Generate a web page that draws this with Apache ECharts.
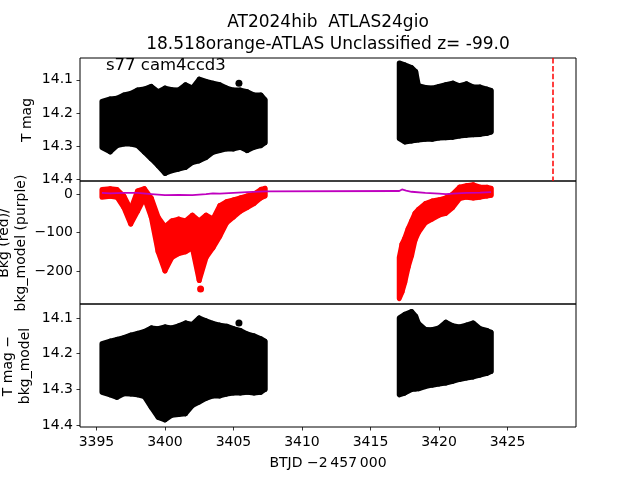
<!DOCTYPE html>
<html>
<head>
<meta charset="utf-8">
<script src="https://cdn.jsdelivr.net/npm/echarts@6/dist/echarts.min.js"></script>
<style>
  html, body { margin: 0; padding: 0; background: #fff; }
  #chart { width: 640px; height: 480px; }
</style>
</head>
<body>
<div id="chart"></div>
<script>
// sample times (BTJD - 2457000) for the two observing stretches
const tA = [3395.4, 3396.0, 3396.5, 3397.0, 3397.5, 3398.0, 3398.5, 3399.0, 3399.5, 3400.0,
            3400.5, 3401.0, 3401.5, 3402.0, 3402.5, 3403.0, 3403.5, 3404.0, 3404.5, 3405.0,
            3405.5, 3406.0, 3406.5, 3407.0, 3407.3];
const tB = [3417.1, 3417.5, 3418.0, 3418.3, 3418.5, 3419.0, 3419.5, 3420.0, 3420.5, 3421.0,
            3421.5, 3422.0, 3422.5, 3423.0, 3423.5, 3423.8];

// panel 1: T mag, upper / lower extent of the points (with error bars)
const magTopA = [14.165, 14.158, 14.156, 14.146, 14.141, 14.131, 14.128, 14.120, 14.136, 14.125,
                 14.130, 14.131, 14.115, 14.125, 14.098, 14.105, 14.110, 14.115, 14.125, 14.131,
                 14.131, 14.136, 14.146, 14.146, 14.160];
const magBotA = [14.305, 14.318, 14.299, 14.294, 14.294, 14.299, 14.319, 14.339, 14.360, 14.383,
                 14.375, 14.370, 14.365, 14.350, 14.345, 14.335, 14.319, 14.314, 14.309, 14.309,
                 14.304, 14.314, 14.304, 14.299, 14.290];
const magTopB = [14.049, 14.055, 14.063, 14.075, 14.118, 14.123, 14.125, 14.120, 14.115, 14.110,
                 14.118, 14.112, 14.122, 14.122, 14.128, 14.132];
const magBotB = [14.278, 14.288, 14.285, 14.283, 14.282, 14.280, 14.280, 14.276, 14.275, 14.274,
                 14.270, 14.268, 14.266, 14.265, 14.262, 14.258];
const magOutlier = [[3405.4, 14.110]];

// panel 3: T mag - bkg_model
const corTopA = [14.172, 14.165, 14.160, 14.155, 14.148, 14.143, 14.138, 14.128, 14.130, 14.125,
                 14.128, 14.122, 14.114, 14.118, 14.100, 14.108, 14.115, 14.120, 14.123, 14.130,
                 14.135, 14.145, 14.150, 14.158, 14.165];
const corBotA = [14.308, 14.315, 14.322, 14.312, 14.313, 14.315, 14.320, 14.350, 14.378, 14.385,
                 14.372, 14.370, 14.368, 14.345, 14.335, 14.325, 14.318, 14.318, 14.313, 14.310,
                 14.310, 14.308, 14.310, 14.308, 14.300];
const corTopB = [14.100, 14.090, 14.082, 14.095, 14.115, 14.132, 14.133, 14.128, 14.112, 14.122,
                 14.125, 14.120, 14.114, 14.130, 14.135, 14.140];
const corBotB = [14.315, 14.310, 14.300, 14.299, 14.298, 14.292, 14.288, 14.285, 14.282, 14.277,
                 14.272, 14.268, 14.265, 14.260, 14.255, 14.250];
const corOutlier = [[3405.4, 14.114]];

// panel 2: background (red) extent
const bkgHiA = [12, 14, 12, -5, -40, 8, 14, -10, -60, -85,
                -70, -65, -70, -55, -70, -55, -65, -30, -20, -15,
                -10, -5, 0, 12, 15];
const bkgLoA = [-8, -6, -8, -35, -78, -45, -10, -60, -150, -200,
                -165, -155, -150, -140, -225, -165, -140, -110, -75, -60,
                -45, -35, -25, -10, -5];
const tBkgB = [3417.1, 3417.3, 3417.5, 3417.75, 3418.0, 3418.25, 3418.5, 3419.0, 3419.5, 3420.0,
               3420.5, 3421.0, 3421.5, 3422.0, 3422.5, 3423.0, 3423.5, 3423.8];
const bkgHiB = [-165, -130, -115, -90, -70, -50, -40, -25, -18, -15,
                -10, 0, 18, 22, 24, 18, 18, 15];
const bkgLoB = [-272, -255, -230, -190, -160, -120, -100, -75, -65, -55,
                -50, -35, -12, -8, -10, -8, -5, -3];
const bkgOutlier = [[3402.6, -247]];

// bkg_model (purple)
const modelT = [3395.4, 3396.0, 3397.0, 3398.0, 3399.0, 3400.0, 3401.0, 3402.0, 3403.0, 3403.5,
                3404.0, 3405.0, 3406.0, 3407.3, 3417.1, 3417.3, 3417.6, 3418.0, 3419.0, 3420.0,
                3420.5, 3421.0, 3422.0, 3423.0, 3423.8];
const modelV = [3, 2, 3, 3, 0, -3, -2, -3, 0, 2,
                1, 3, 5, 7, 8, 12, 9, 6, 3, 1,
                0, 1, 3, 4, 5];

const alertTime = [3428.28];

const xTicks = [3395, 3400, 3405, 3410, 3415, 3420, 3425];
const magTicks = [14.1, 14.2, 14.3, 14.4];
const bkgTicks = [-200, -100, 0];

const FONT = 'DejaVu Sans';
const chart = echarts.init(document.getElementById('chart'));

// each item joins sample i to sample i+1 as a filled strip; the thick
// stroke stands in for the round markers at the edges of the cloud
function band(idx, times, tops, bots, color) {
  return {
    type: 'custom',
    xAxisIndex: idx,
    yAxisIndex: idx,
    data: times.map((t, i) => [t, tops[i], bots[i]]),
    renderItem: function (params, api) {
      const i = params.dataIndex;
      const j = i < times.length - 1 ? i + 1 : i;
      const p1 = api.coord([times[i], tops[i]]);
      const p2 = api.coord([times[j], tops[j]]);
      const p3 = api.coord([times[j], bots[j]]);
      const p4 = api.coord([times[i], bots[i]]);
      return {
        type: 'polygon',
        shape: { points: [p1, p2, p3, p4] },
        style: { fill: color, stroke: color, lineWidth: 5, lineJoin: 'round' }
      };
    }
  };
}

function yAxisOf(idx, min, max, ticks, inverse, fmt) {
  return {
    gridIndex: idx, type: 'value', min: min, max: max, inverse: inverse,
    axisLine: { show: false },
    splitLine: { show: false },
    axisTick: { customValues: ticks, length: 3.5, lineStyle: { color: '#000', width: 0.8 } },
    axisLabel: { customValues: ticks, formatter: fmt, fontSize: 14, color: '#000', fontFamily: FONT, margin: 7 }
  };
}

function xAxisOf(idx, show) {
  return {
    gridIndex: idx, type: 'value', min: 3393.8, max: 3430.0,
    axisLine: { show: false },
    splitLine: { show: false },
    axisTick: { show: show, customValues: xTicks, length: 3.5, lineStyle: { color: '#000', width: 0.8 } },
    axisLabel: { show: show, customValues: xTicks, formatter: v => String(v), fontSize: 14, color: '#000', fontFamily: FONT, margin: 8 }
  };
}

const magFmt = v => v.toFixed(1);
const bkgFmt = v => (v < 0 ? '\u2212' + Math.abs(v) : String(v));
const gridBase = { left: 80, right: 64, height: 123, show: true, borderColor: '#000', borderWidth: 1, backgroundColor: 'transparent' };

function txt(x, y, text, size, opts) {
  return Object.assign({
    type: 'text', x: x, y: y,
    style: { text: text, fontSize: size, fontFamily: FONT, fill: '#000', align: 'center', verticalAlign: 'middle' }
  }, opts || {});
}

chart.setOption({
  animation: false,
  grid: [
    Object.assign({ top: 58 }, gridBase),
    Object.assign({ top: 181 }, gridBase),
    Object.assign({ top: 304 }, gridBase)
  ],
  xAxis: [xAxisOf(0, false), xAxisOf(1, false), xAxisOf(2, true)],
  yAxis: [
    yAxisOf(0, 14.034, 14.406, magTicks, true, magFmt),
    yAxisOf(1, -286, 34, bkgTicks, false, bkgFmt),
    yAxisOf(2, 14.061, 14.405, magTicks, true, magFmt)
  ],
  series: [
    band(0, tA, magTopA, magBotA, '#000'),
    band(0, tB, magTopB, magBotB, '#000'),
    {
      type: 'scatter', xAxisIndex: 0, yAxisIndex: 0, data: magOutlier,
      symbolSize: 7, itemStyle: { color: '#000', opacity: 1 },
      markLine: {
        silent: true, symbol: 'none', label: { show: false },
        lineStyle: { color: '#ff0000', type: [5.5, 2.4], width: 1.5 },
        data: alertTime.map(t => ({ xAxis: t }))
      }
    },
    band(1, tA, bkgHiA, bkgLoA, '#ff0000'),
    band(1, tBkgB, bkgHiB, bkgLoB, '#ff0000'),
    {
      type: 'scatter', xAxisIndex: 1, yAxisIndex: 1, data: bkgOutlier,
      symbolSize: 7, itemStyle: { color: '#ff0000', opacity: 1 }
    },
    {
      type: 'line', xAxisIndex: 1, yAxisIndex: 1,
      data: modelT.map((t, i) => [t, modelV[i]]),
      showSymbol: false, lineStyle: { color: '#bf00bf', width: 1.8 }
    },
    band(2, tA, corTopA, corBotA, '#000'),
    band(2, tB, corTopB, corBotB, '#000'),
    {
      type: 'scatter', xAxisIndex: 2, yAxisIndex: 2, data: corOutlier,
      symbolSize: 7, itemStyle: { color: '#000', opacity: 1 }
    }
  ],
  graphic: [
    txt(328, 23, 'AT2024hib  ATLAS24gio', 17),
    txt(328, 45, '18.518orange-ATLAS Unclassified z= -99.0', 17),
    txt(106, 66, 's77 cam4ccd3', 16.5, { style: { text: 's77 cam4ccd3', fontSize: 16.5, fontFamily: FONT, fill: '#000', align: 'left', verticalAlign: 'middle' } }),
    txt(27, 120, 'T mag', 14, { rotation: Math.PI / 2 }),
    txt(4, 243, 'Bkg (red)/', 14, { rotation: Math.PI / 2 }),
    txt(21, 243, 'bkg_model (purple)', 14, { rotation: Math.PI / 2 }),
    txt(8, 366, 'T mag \u2212', 14, { rotation: Math.PI / 2 }),
    txt(25, 366, 'bkg_model', 14, { rotation: Math.PI / 2 }),
    txt(328, 463, 'BTJD \u22122\u2009457\u2009000', 14)
  ]
});
</script>
</body>
</html>
